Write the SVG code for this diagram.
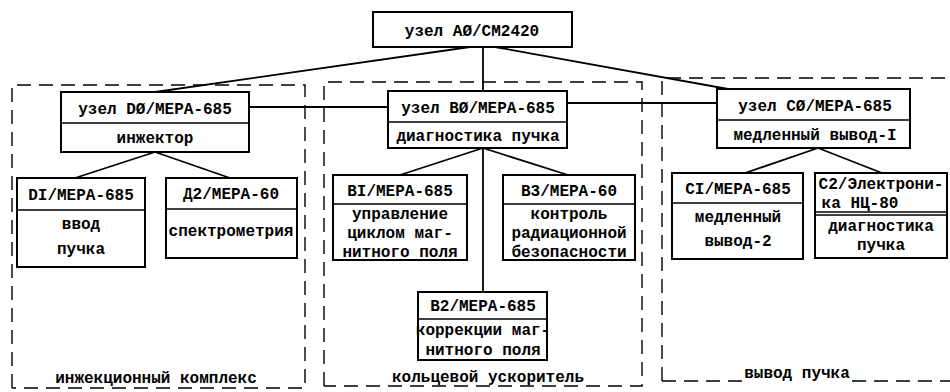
<svg xmlns="http://www.w3.org/2000/svg" width="950" height="392" viewBox="0 0 950 392">
<style>
.b{fill:#fff;stroke:#000;stroke-width:2}
.d{fill:none;stroke:#000;stroke-width:1.6}
.g{fill:none;stroke:#000;stroke-width:1.4;stroke-dasharray:14 8}
.c{fill:none;stroke:#000;stroke-width:1.8}
text{font-family:"Liberation Mono","DejaVu Sans Mono",monospace;font-size:16px;fill:#000;text-anchor:middle;font-weight:bold}
.s{font-size:15px}
</style>
<rect width="950" height="392" fill="#fff"/>
<g id="groups">
<path class="g" d="M12 388 V85 H305 V388 H12"/>
<path class="g" d="M324 386 V82 H642 V386 H324"/>
<path class="g" d="M662 381 V78 H952"/>
<path class="g" d="M662 381 H745"/>
<path class="g" d="M852 381 H952"/>
<text x="156" y="383">инжекционный комплекс</text>
<text x="488" y="382">кольцевой ускоритель</text>
<text x="797" y="378">вывод пучка</text>
</g>
<g id="connectors">
<path class="c" d="M470 47 L155 92"/>
<path class="c" d="M483 47 V312"/>
<path class="c" d="M495 47 L728 89"/>
<path class="c" d="M249 107 H388"/>
<path class="c" d="M567 103 H717"/>
<path class="c" d="M155 152 L75 178"/>
<path class="c" d="M155 152 L230 178"/>
<path class="c" d="M483 148 L400 175"/>
<path class="c" d="M483 148 L568 175"/>
<path class="c" d="M818 148 L745 173"/>
<path class="c" d="M818 148 L882 173"/>
</g>
<g id="A0">
<rect class="b" x="373" y="12" width="199" height="35"/>
<text x="472" y="36">узел AØ/CM2420</text>
</g>
<g id="D0">
<rect class="b" x="61" y="92" width="188" height="60"/>
<line class="d" x1="61" y1="123" x2="249" y2="123"/>
<text x="155" y="114">узел DØ/MEPA-685</text>
<text x="155" y="143">инжектор</text>
</g>
<g id="B0">
<rect class="b" x="388" y="91" width="179" height="57"/>
<line class="d" x1="388" y1="122" x2="567" y2="122"/>
<text x="478" y="113">узел BØ/MEPA-685</text>
<text x="478" y="141">диагностика пучка</text>
</g>
<g id="C0">
<rect class="b" x="717" y="89" width="193" height="59"/>
<line class="d" x1="717" y1="120" x2="910" y2="120"/>
<text x="815" y="111">узел CØ/MEPA-685</text>
<text x="815" y="140">медленный вывод-I</text>
</g>
<g id="D1">
<rect class="b" x="17" y="178" width="128" height="89"/>
<line class="d" x1="17" y1="210" x2="145" y2="210"/>
<text x="81" y="200">DI/MEPA-685</text>
<text x="81" y="229">ввод</text>
<text x="81" y="254">пучка</text>
</g>
<g id="D2">
<rect class="b" x="166" y="178" width="131" height="80"/>
<line class="d" x1="166" y1="209" x2="297" y2="209"/>
<text x="231" y="199">Д2/MEPA-60</text>
<text x="231" y="236">спектрометрия</text>
</g>
<g id="B1">
<rect class="b" x="333" y="175" width="134" height="85"/>
<line class="d" x1="333" y1="204" x2="467" y2="204"/>
<text x="400" y="196">BI/MEPA-685</text>
<text x="400" y="219">управление</text>
<text x="400" y="238">циклом маг-</text>
<text x="400" y="257">нитного поля</text>
</g>
<g id="B3">
<rect class="b" x="503" y="175" width="132" height="85"/>
<line class="d" x1="503" y1="204" x2="635" y2="204"/>
<text x="569" y="196">B3/MEPA-60</text>
<text x="569" y="219">контроль</text>
<text x="569" y="238">радиационной</text>
<text x="569" y="257">безопасности</text>
</g>
<g id="B2">
<rect class="b" x="418" y="292" width="129" height="68"/>
<line class="d" x1="418" y1="319" x2="547" y2="319"/>
<text x="483" y="311">B2/MEPA-685</text>
<text x="483" y="335">коррекции маг-</text>
<text x="483" y="355">нитного поля</text>
</g>
<g id="C1">
<rect class="b" x="672" y="173" width="131" height="86"/>
<line class="d" x1="672" y1="203" x2="803" y2="203"/>
<text x="738" y="194">CI/MEPA-685</text>
<text x="738" y="222">медленный</text>
<text x="738" y="246">вывод-2</text>
</g>
<g id="C2">
<rect class="b" x="815" y="173" width="132" height="85"/>
<line class="d" x1="815" y1="212" x2="947" y2="212"/>
<line class="d" x1="815" y1="215" x2="947" y2="215"/>
<text x="881" y="189">C2/Электрони-</text>
<text x="860" y="208">ка  НЦ-80</text>
<text x="881" y="231">диагностика</text>
<text x="881" y="250">пучка</text>
</g>
</svg>
